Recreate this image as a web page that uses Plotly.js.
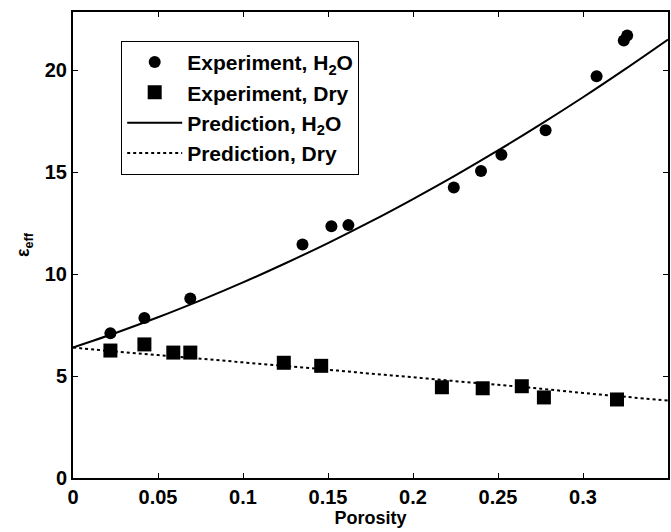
<!DOCTYPE html>
<html>
<head>
<meta charset="utf-8">
<script src="https://cdn.plot.ly/plotly-3.0.1.min.js"></script>
<style>html,body{margin:0;padding:0;background:#fff;}#chart{width:671px;height:532px;}</style>
</head>
<body>
<div id="chart"></div>
<script>
// Experiment, H2O
var expH2OX = [0.022, 0.042, 0.069, 0.135, 0.152, 0.162, 0.224, 0.240, 0.252, 0.278, 0.308, 0.324, 0.326];
var expH2OY = [7.1, 7.85, 8.8, 11.45, 12.35, 12.4, 14.25, 15.05, 15.85, 17.05, 19.7, 21.45, 21.7];
// Experiment, Dry
var expDryX = [0.022, 0.042, 0.059, 0.069, 0.124, 0.146, 0.217, 0.241, 0.264, 0.277, 0.320];
var expDryY = [6.25, 6.55, 6.15, 6.15, 5.65, 5.5, 4.45, 4.4, 4.5, 3.95, 3.85];
// Prediction curves
var predX = [0, 0.025, 0.05, 0.075, 0.1, 0.125, 0.15, 0.175, 0.2, 0.225, 0.25, 0.275, 0.3, 0.325, 0.35];
var predH2OY = [6.40, 7.11, 7.88, 8.71, 9.59, 10.53, 11.52, 12.57, 13.68, 14.84, 16.06, 17.34, 18.67, 20.06, 21.5];
var predDryY = [6.40, 6.20, 6.03, 5.85, 5.67, 5.49, 5.31, 5.12, 4.94, 4.75, 4.57, 4.38, 4.17, 3.98, 3.80];
var xTicks = [0, 0.05, 0.1, 0.15, 0.2, 0.25, 0.3];
var yTicks = [0, 5, 10, 15, 20];

var fontFam = '"Liberation Sans", Arial, Helvetica, sans-serif';
var traces = [
  {x: expH2OX, y: expH2OY, mode: 'markers', type: 'scatter', name: 'Experiment, H<sub>2</sub>O',
   marker: {symbol: 'circle', size: 12, color: '#000'}},
  {x: expDryX, y: expDryY, mode: 'markers', type: 'scatter', name: 'Experiment, Dry',
   marker: {symbol: 'square', size: 14, color: '#000'}},
  {x: predX, y: predH2OY, mode: 'lines', type: 'scatter', name: 'Prediction, H<sub>2</sub>O',
   line: {color: '#000', width: 2, shape: 'spline'}},
  {x: predX, y: predDryY, mode: 'lines', type: 'scatter', name: 'Prediction, Dry',
   line: {color: '#000', width: 2, dash: 'dot', shape: 'spline'}}
];
var axisCommon = {
  showline: true, linecolor: '#000', linewidth: 2, mirror: 'ticks',
  ticks: 'inside', ticklen: 5, tickwidth: 1, tickcolor: '#000',
  showgrid: false, zeroline: false,
  tickfont: {family: fontFam, size: 20, color: '#000', weight: 'bold'}
};
var layout = {
  width: 671, height: 532,
  margin: {l: 73, r: 3, t: 12, b: 54},
  paper_bgcolor: '#fff', plot_bgcolor: '#fff',
  showlegend: true,
  xaxis: Object.assign({}, axisCommon, {
    range: [0, 0.35], tickvals: xTicks, ticktext: xTicks.map(String),
    title: {text: 'Porosity', standoff: 4, font: {family: fontFam, size: 18, color: '#000', weight: 'bold'}}
  }),
  yaxis: Object.assign({}, axisCommon, {
    range: [0, 22.85], tickvals: yTicks, ticktext: yTicks.map(String),
    title: {text: 'ε<sub>eff</sub>', standoff: 10, font: {family: fontFam, size: 18, color: '#000', weight: 'bold'}}
  }),
  legend: {
    x: 0.081, y: 0.938, xanchor: 'left', yanchor: 'top',
    bordercolor: '#000', borderwidth: 1, bgcolor: '#fff',
    itemwidth: 55,
    font: {family: fontFam, size: 21, color: '#000', weight: 'bold'}
  }
};
Plotly.newPlot('chart', traces, layout, {displayModeBar: false, staticPlot: true});
</script>
</body>
</html>
